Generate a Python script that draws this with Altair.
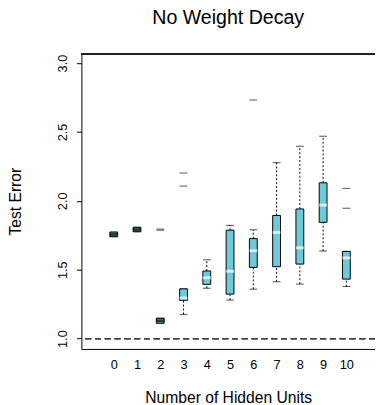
import altair as alt
import pandas as pd

# Number of hidden units
units = [0, 1, 2, 3, 4, 5, 6, 7, 8, 9, 10]
whisk_lo = [1.740, 1.776, 1.112, 1.176, 1.366, 1.280, 1.359, 1.413, 1.396, 1.636, 1.378]
q1 =       [1.740, 1.776, 1.112, 1.278, 1.394, 1.323, 1.517, 1.522, 1.541, 1.844, 1.432]
median =   [1.756, 1.792, 1.130, 1.295, 1.442, 1.489, 1.638, 1.771, 1.659, 1.969, 1.586]
q3 =       [1.773, 1.808, 1.148, 1.361, 1.491, 1.787, 1.726, 1.894, 1.941, 2.131, 1.633]
whisk_hi = [1.773, 1.808, 1.148, 1.361, 1.572, 1.822, 1.790, 2.277, 2.396, 2.469, 1.633]

out_units = [2, 2, 3, 3, 6, 10, 10]
out_values = [1.787, 1.795, 2.107, 2.202, 2.732, 2.090, 1.946]

y_ticks = [1.0, 1.5, 2.0, 2.5, 3.0]

FONT = "Liberation Sans"
CYAN = "#6CCBDA"

df = pd.DataFrame({"units": units, "lo": whisk_lo, "q1": q1, "med": median,
                   "q3": q3, "hi": whisk_hi})
df_out = pd.DataFrame({"units": out_units, "value": out_values})

xscale = alt.Scale(domain=[-1.18, 11.02], nice=False, zero=False)
yscale = alt.Scale(domain=[0.925, 3.07], nice=False, zero=False)

xaxis = alt.Axis(values=units, format="d", ticks=False, labelPadding=10,
                 labelOverlap=False, labelBound=False,
                 title="Number of Hidden Units", titlePadding=19,
                 labelFontSize=13, titleFontSize=16, labelFont=FONT, titleFont=FONT,
                 labelColor="black", titleColor="black", titleFontWeight="normal",
                 domainColor="black", grid=False, labelFlush=False)
yaxis = alt.Axis(values=y_ticks, format=".1f", tickSize=5, tickColor="black",
                 labelAngle=-90, labelAlign="center", labelBaseline="bottom",
                 labelPadding=7, labelOverlap=False, title="Test Error", titlePadding=34,
                 labelFontSize=13, titleFontSize=16, labelFont=FONT, titleFont=FONT,
                 labelColor="black", titleColor="black", titleFontWeight="normal",
                 domainColor="black", grid=False)


def X():
    return alt.X("units:Q", scale=xscale, axis=xaxis)


def Y(field):
    return alt.Y(field, scale=yscale, axis=yaxis)


base = alt.Chart(df)

whisk_low = base.mark_rule(color="black", strokeDash=[2, 2], strokeWidth=1).encode(
    x=X(), y=Y("lo:Q"), y2="q1:Q")
whisk_up = base.mark_rule(color="black", strokeDash=[2, 2], strokeWidth=1).encode(
    x=X(), y=Y("q3:Q"), y2="hi:Q")
cap_lo = base.mark_tick(orient="horizontal", size=8, thickness=1, color="black").encode(
    x=X(), y=Y("lo:Q"))
cap_hi = base.mark_tick(orient="horizontal", size=8, thickness=1, color="black").encode(
    x=X(), y=Y("hi:Q"))
box = base.mark_bar(size=8, fill=CYAN, stroke="black", strokeWidth=1).encode(
    x=X(), y=Y("q1:Q"), y2="q3:Q")
med = base.transform_calculate(iqr="datum.q3 - datum.q1").mark_tick(
    orient="horizontal", size=8, thickness=3).encode(
    x=X(), y=Y("med:Q"),
    color=alt.condition("datum.iqr < 0.05", alt.value("black"), alt.value("white")))

outl = alt.Chart(df_out).mark_tick(orient="horizontal", size=8, thickness=1.2,
                                   color="#333333").encode(x=X(), y=Y("value:Q"))

ref = alt.Chart(df).mark_rule(color="#444444", strokeDash=[6, 4], strokeWidth=1).encode(
    y=alt.datum(1.0))
top = alt.Chart(df).mark_rule(color="#222222", strokeWidth=1).encode(y=alt.value(0.5))

chart = alt.layer(whisk_low, whisk_up, cap_lo, cap_hi, box, med, outl, ref, top).properties(
    width=300, height=302,
    title=alt.TitleParams("No Weight Decay", fontSize=20, font=FONT, fontWeight="normal",
                          color="black", offset=26, anchor="middle"),
    autosize=alt.AutoSizeParams(type="none"),
    padding={"left": 75, "top": 42, "right": 0, "bottom": 60},
).configure_view(stroke=None).configure_axisX(labelOverlap=False)

chart.save("out.html", embed_options={"renderer": "svg", "actions": False})
